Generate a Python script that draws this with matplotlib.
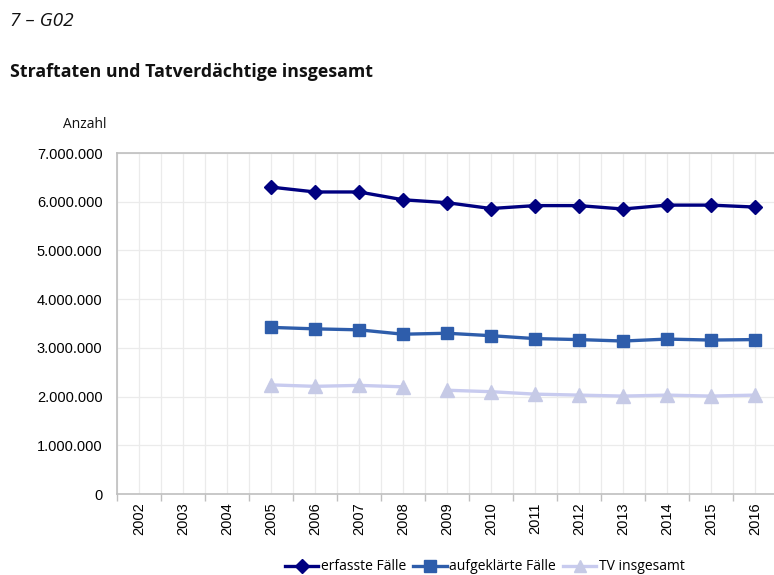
import numpy as np
import matplotlib
matplotlib.use("Agg")
import matplotlib.pyplot as plt
from matplotlib.ticker import FuncFormatter, MultipleLocator

years = ["2002", "2003", "2004", "2005", "2006", "2007", "2008", "2009",
         "2010", "2011", "2012", "2013", "2014", "2015", "2016"]
erfasste = [None, None, None, 6.30e6, 6.20e6, 6.20e6, 6.04e6, 5.98e6,
            5.86e6, 5.92e6, 5.92e6, 5.85e6, 5.93e6, 5.93e6, 5.89e6]
aufgeklaerte = [None, None, None, 3.42e6, 3.39e6, 3.37e6, 3.28e6, 3.30e6,
                3.25e6, 3.19e6, 3.17e6, 3.14e6, 3.18e6, 3.16e6, 3.17e6]
tv = [None, None, None, 2.24e6, 2.21e6, 2.23e6, 2.20e6, 2.13e6,
      2.10e6, 2.05e6, 2.03e6, 2.01e6, 2.03e6, 2.01e6, 2.03e6]
tv_break_after = "2008"

def arr(v):
    return np.array([np.nan if x is None else x for x in v], dtype=float)

fig = plt.figure(figsize=(7.74, 5.75), dpi=100)
W, H = 774, 575
ax = fig.add_axes([117 / W, (H - 494) / H, 660 / W, 341 / H])

x = np.arange(len(years))
tick_font = ["Liberation Sans", "DejaVu Sans"]
text_font = ["Open Sans", "DejaVu Sans"]

ax.plot(x, arr(erfasste), color="#000080", lw=2.4, marker="D", ms=7.5,
        label="erfasste Fälle", zorder=5)
ax.plot(x, arr(aufgeklaerte), color="#2E5DAB", lw=2.4, marker="s", ms=9,
        label="aufgeklärte Fälle", zorder=4)
tv_a = arr(tv)
b = years.index(tv_break_after) + 1
ax.plot(x[:b], tv_a[:b], color="#C8CBEF", lw=2.4, marker="^", ms=10,
        mfc="#C6CAE6", mec="#C6CAE6", label="TV insgesamt", zorder=3)
ax.plot(x[b:], tv_a[b:], color="#C8CBEF", lw=2.4, marker="^", ms=10,
        mfc="#C6CAE6", mec="#C6CAE6", zorder=3)

ax.set_xlim(-0.5, len(years) - 0.5)
ax.set_ylim(0, 7e6)
ax.yaxis.set_major_locator(MultipleLocator(1e6))
ax.yaxis.set_major_formatter(FuncFormatter(lambda v, p: f"{int(v):,}".replace(",", ".")))
ax.set_xticks(x)
ax.set_xticklabels(years, rotation=90, fontfamily=tick_font, fontsize=10.5)
ax.set_xticks(np.arange(-0.5, len(years), 1), minor=True)
for lab in ax.get_yticklabels():
    lab.set_fontfamily(tick_font)
    lab.set_fontsize(10.5)

ax.grid(True, which="major", axis="both", color="#EBEBEB", lw=0.9, zorder=0)
ax.grid(True, which="minor", axis="x", color="#EBEBEB", lw=0.9, zorder=0)
ax.set_axisbelow(True)
ax.tick_params(axis="x", which="major", length=0, pad=6)
ax.tick_params(axis="x", which="minor", length=5, color="#BFBFBF", width=1)
ax.tick_params(axis="y", length=0, pad=10.5)
for s in ["left", "bottom", "top", "right"]:
    ax.spines[s].set_color("#BFBFBF")
    ax.spines[s].set_linewidth(1.2)

fig.text(10 / W, 1 - 21 / H, "7 – G02", fontsize=13.8, style="italic",
         fontfamily=text_font, va="center", ha="left", color="#111111")
fig.text(10 / W, 1 - 72 / H, "Straftaten und Tatverdächtige insgesamt",
         fontsize=12.8, fontweight="bold", fontfamily=text_font,
         va="center", ha="left", color="#111111")
fig.text(107 / W, 1 - 125 / H, "Anzahl", fontsize=10, fontfamily=text_font,
         va="center", ha="right", color="#111111")

fig.legend(loc="center", bbox_to_anchor=(485 / W, 1 - 567 / H), ncol=3,
           frameon=False, prop={"family": text_font, "size": 10},
           handlelength=2.4, handletextpad=0.2, columnspacing=0.5,
           markerscale=0.9)

fig.savefig("out.png", dpi=100)
